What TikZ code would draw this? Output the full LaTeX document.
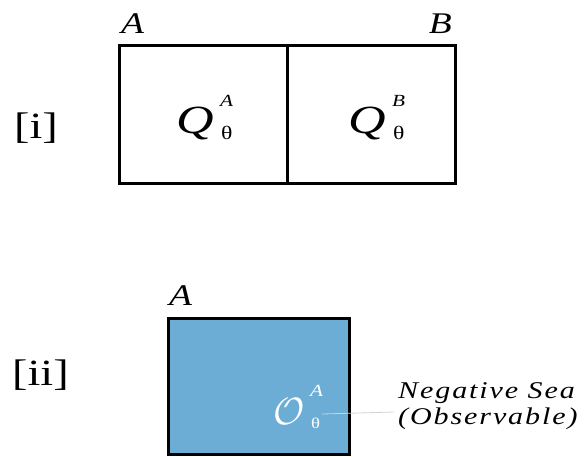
\RequirePackage{fix-cm}
\documentclass[tikz,border=0pt]{standalone}
\usepackage{fontspec}
\setmainfont{Liberation Serif}[FakeStretch=1.25]
\newfontfamily\seafont{Liberation Serif}[FakeStretch=1.25,LetterSpace=8]
\newfontfamily\qfont{Liberation Serif}[FakeStretch=1.3]
\definecolor{seablue}{RGB}{108,173,214}
\begin{document}
\begin{tikzpicture}[x=1pt,y=-1pt,
  box/.style={draw=black,line width=3.2pt,inner sep=0pt},
  lbl/.style={inner sep=0pt,anchor=base west,font=\fontsize{30}{33}\selectfont\itshape},
  tag/.style={inner sep=0pt,anchor=base west,font=\fontsize{37}{40}\selectfont},
  qty/.style={inner sep=0pt,anchor=base west,font=\fontsize{40}{42}\qfont\itshape},
  sup/.style={inner sep=0pt,anchor=base west,font=\fontsize{17}{20}\selectfont\itshape},
  sub/.style={inner sep=0pt,anchor=base west,font=\fontsize{19}{20}\selectfont},
  sea/.style={inner sep=0pt,anchor=base west,font=\fontsize{24}{26}\seafont\itshape}]
\useasboundingbox (0,0) rectangle (588,456);
% [i]
\node[box,minimum width=168pt,minimum height=138pt,anchor=north west] (boxA) at (118,44) {};
\node[box,minimum width=168pt,minimum height=138pt,anchor=north west] (boxB) at (286,44) {};
\node[lbl] (labA) at (121,33) {A};
\node[lbl,anchor=base east] (labB) at (452,33) {B};
\node[tag] (ti) at (14,138) {[i]};
\node[qty] (qA) at (176,133) {Q};
\node[sup] (qAs) at (220,106) {A};
\node[sub] (qAt) at (221,139) {θ};
\node[qty] (qB) at (348,133) {Q};
\node[sup] (qBs) at (392,106) {B};
\node[sub] (qBt) at (393,139) {θ};
% [ii]
\node[box,fill=seablue,minimum width=181pt,minimum height=136pt,anchor=north west] (boxC) at (167,317) {};
\node[lbl] (labC) at (169,305) {A};
\node[tag] (tii) at (12,385) {[ii]};
\node[inner sep=0pt,anchor=base west,text=white,font=\fontsize{38}{40}\selectfont] (oA) at (273,424) {$\mathcal{O}$};
\node[sup,text=white] (oAs) at (310,396) {A};
\node[sub,text=white,font=\fontsize{15}{16}\selectfont] (oAt) at (311,428) {θ};
\node[sea] (sea) at (398,398) {Negative Sea};
\node[sea] (obs) at (398,424) {(Observable)};
\coordinate (c1) at (322,414);
\coordinate (c2) at (394,412);
\draw[gray!35,line width=0.8pt] (c1) -- (c2);
\end{tikzpicture}
\end{document}
